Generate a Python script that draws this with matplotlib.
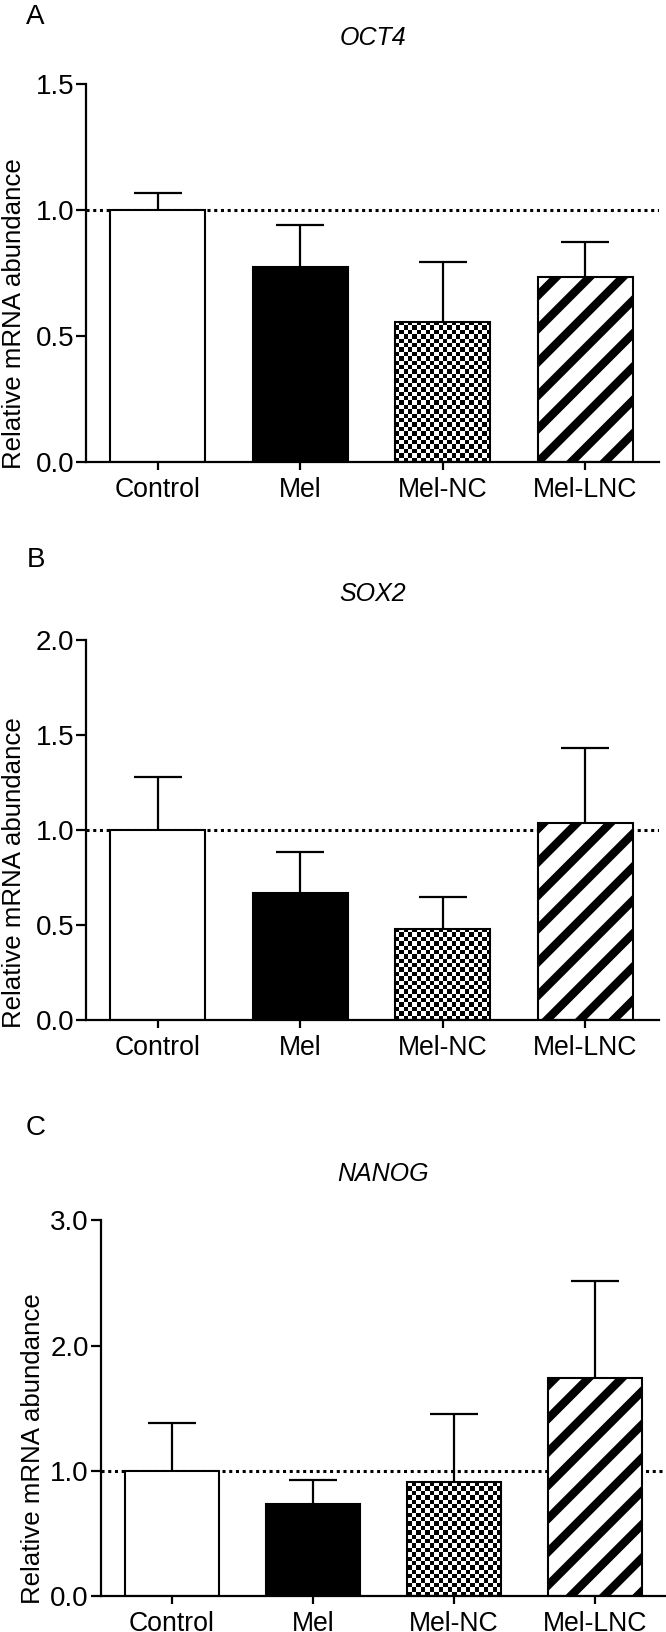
import numpy as np
import matplotlib
matplotlib.use('Agg')
import matplotlib.pyplot as plt
from matplotlib.ticker import FormatStrFormatter

plt.rcParams['font.family'] = ['Liberation Sans', 'DejaVu Sans']
plt.rcParams['hatch.linewidth'] = 3.0

# ---------------- data ----------------
categories = ['Control', 'Mel', 'Mel-NC', 'Mel-LNC']
genes = ['OCT4', 'SOX2', 'NANOG']
panel_letters = ['A', 'B', 'C']

oct4_mean = [1.0, 0.776, 0.558, 0.735]
oct4_err = [0.067, 0.164, 0.238, 0.138]
sox2_mean = [1.0, 0.667, 0.481, 1.035]
sox2_err = [0.281, 0.217, 0.165, 0.395]
nanog_mean = [1.0, 0.735, 0.910, 1.743]
nanog_err = [0.382, 0.189, 0.545, 0.776]

oct4_ticks = [0.0, 0.5, 1.0, 1.5]
sox2_ticks = [0.0, 0.5, 1.0, 1.5, 2.0]
nanog_ticks = [0.0, 1.0, 2.0, 3.0]
reference_level = 1.0

# ---------------- layout (pixels in a 666 x 1632 figure) ----------------
W, H = 666.0, 1632.0
fig = plt.figure(figsize=(W / 200, H / 200), dpi=200)

panels = [
    dict(mean=oct4_mean, err=oct4_err, ticks=oct4_ticks, gene=genes[0], letter=panel_letters[0],
         box=(86, 84.3, 659, 462.3), xlim=(-0.502, 3.519), lab=(-0.104, 0.392), letter_xy=(26, 24)),
    dict(mean=sox2_mean, err=sox2_err, ticks=sox2_ticks, gene=genes[1], letter=panel_letters[1],
         box=(86, 640, 659, 1020), xlim=(-0.502, 3.519), lab=(-0.104, 0.389), letter_xy=(27, 567)),
    dict(mean=nanog_mean, err=nanog_err, ticks=nanog_ticks, gene=genes[2], letter=panel_letters[2],
         box=(100.7, 1220.3, 666, 1596), xlim=(-0.503, 3.503), lab=(-0.0985, 0.393), letter_xy=(26, 1135)),
]

LW = 0.8
for p in panels:
    l, t, r, b = p['box']
    ax = fig.add_axes([l / W, 1 - b / H, (r - l) / W, (b - t) / H])
    x = np.arange(len(categories))
    ax.set_xlim(*p['xlim'])
    ax.set_ylim(p['ticks'][0], p['ticks'][-1])

    ax.axhline(reference_level, color='black', lw=1.1, ls=(0, (1, 1.2)), zorder=1)

    faces = ['white', 'black', 'none', 'white']
    bars = ax.bar(x, p['mean'], width=0.667, color=faces, edgecolor='black',
                  linewidth=0.75, zorder=2)
    bars[3].set_hatch('//')

    # checkerboard fill for Mel-NC
    nc = bars[2]
    bx, by, bw, bh = nc.get_x(), nc.get_y(), nc.get_width(), nc.get_height()
    (px0, py0) = ax.transData.transform((bx, by))
    (px1, py1) = ax.transData.transform((bx + bw, by + bh))
    nx = max(1, int(round((px1 - px0) / 4.4)))
    ny = max(1, int(round((py1 - py0) / 4.4)))
    checker = np.add.outer(np.arange(ny), np.arange(nx)) % 2
    ax.imshow(checker, cmap='gray', vmin=0, vmax=1, extent=(bx, bx + bw, by, by + bh),
              origin='lower', interpolation='nearest', aspect='auto', zorder=1.5)

    eb = ax.errorbar(x, p['mean'], yerr=[np.zeros(len(x)), p['err']], fmt='none',
                     ecolor='black', elinewidth=LW, capsize=8.6, capthick=LW, zorder=3)
    for cl in eb[1]:
        if np.allclose(cl.get_ydata(), p['mean']):
            cl.set_visible(False)

    ax.set_xlim(*p['xlim'])
    ax.set_ylim(p['ticks'][0], p['ticks'][-1])

    for s in ['top', 'right']:
        ax.spines[s].set_visible(False)
    for s in ['left', 'bottom']:
        ax.spines[s].set_linewidth(LW)

    ax.set_xticks(x, categories)
    ax.set_yticks(p['ticks'])
    ax.yaxis.set_major_formatter(FormatStrFormatter('%.1f'))
    ax.tick_params(axis='x', length=2.9, width=LW, pad=2.5, labelsize=9.6)
    ax.tick_params(axis='y', length=3.6, width=LW, pad=0.7, labelsize=10)

    ax.set_ylabel('Relative mRNA abundance', fontsize=9.3)
    ax.yaxis.set_label_coords(*p['lab'])
    ax.set_title(p['gene'], style='italic', fontsize=9, pad=14)

    lx, ly = p['letter_xy']
    fig.text(lx / W, 1 - ly / H, p['letter'], fontsize=10, va='baseline', ha='left')

fig.savefig('out.png', dpi=200)
